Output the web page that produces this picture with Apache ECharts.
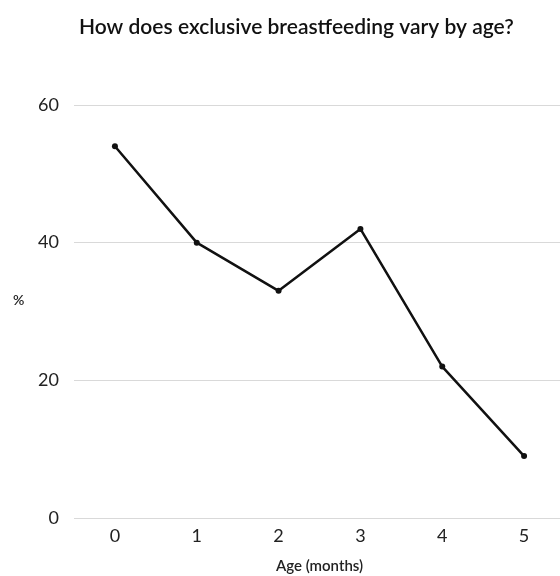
<!DOCTYPE html>
<html><head><meta charset="utf-8">
<script src="https://cdn.jsdelivr.net/npm/echarts@6/dist/echarts.min.js"></script>
<style>html,body{margin:0;padding:0;background:#fff}#c{width:560px;height:576px}</style>
</head><body><div id="c"></div>
<script>
const categories = ['0','1','2','3','4','5'];
const values = [54, 40, 33, 42, 22, 9];
const titleText = 'How does exclusive breastfeeding vary by age?';
const xName = 'Age (months)';
const yName = '%';
const FONT = 'Lato, "Open Sans", sans-serif';
const chart = echarts.init(document.getElementById('c'), null, {renderer:'canvas'});
chart.setOption({
  backgroundColor:'#fff',
  animation:false,
  title:[
    {text:titleText,left:74,top:12,textStyle:{fontFamily:FONT,fontSize:21,fontWeight:600,color:'#111'}},
    {text:yName,left:8,top:288,textStyle:{fontFamily:FONT,fontSize:14,fontWeight:600,color:'#222'}}
  ],
  grid:{left:74,width:491,top:105,bottom:58,containLabel:false,outerBoundsMode:'none'},
  xAxis:{type:'category',data:categories,boundaryGap:true,
    axisLine:{show:false},axisTick:{show:false},
    axisLabel:{margin:9,fontFamily:FONT,fontSize:18,color:'#222'},
    name:xName,nameLocation:'middle',nameGap:41,
    nameTextStyle:{fontFamily:FONT,fontSize:15,fontWeight:600,color:'#222'}},
  yAxis:{type:'value',min:0,max:60,interval:20,
    axisLine:{show:false},axisTick:{show:false},
    splitLine:{lineStyle:{color:'#d9d9d9',width:1}},
    axisLabel:{margin:15,fontFamily:FONT,fontSize:18,color:'#222'}},
  series:[{type:'line',data:values,symbol:'circle',symbolSize:6,
    lineStyle:{color:'#111',width:2.5},itemStyle:{color:'#111'}}]
});
</script></body></html>
